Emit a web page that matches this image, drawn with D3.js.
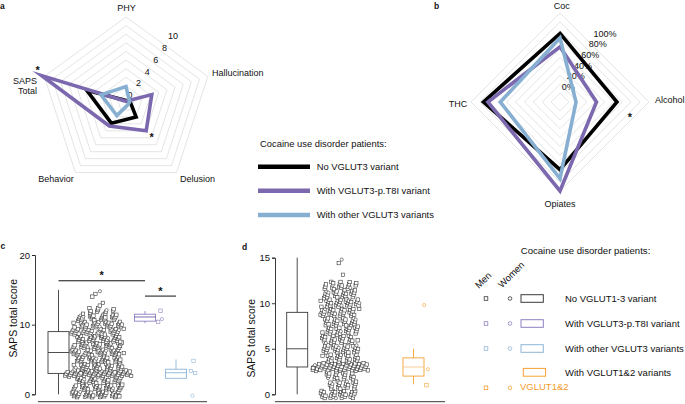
<!DOCTYPE html>
<html><head><meta charset="utf-8">
<script src="https://cdn.jsdelivr.net/npm/d3@7"></script>
<style>body{margin:0;background:#fff} text{font-family:"Liberation Sans",Arial,Helvetica,sans-serif}</style>
</head><body><svg id="fig" width="685" height="404"></svg>
<script>
// ---------------- DATA ----------------
const radarAAxes = ["PHY", "Hallucination", "Delusion", "Behavior", "SAPS Total"];
const radarANone  = [0.3, 0.5, 2.0, 2.9, 4.8];
const radarAT8I   = [0.2, 3.15, 4.0, 3.3, 10.3];
const radarAOther = [1.9, 0.45, 0.3, 1.8, 3.05];
const radarATicks = [0, 2, 4, 6, 8, 10];

const radarBAxes = ["Coc", "Alcohol", "Opiates", "THC"];
const radarBNone  = [77, 64, 76, 86];
const radarBT8I   = [62, 41, 100, 81];
const radarBOther = [72, 18, 86, 67];
const radarBTicks = [0, 20, 40, 60, 80, 100];

const seriesNames = ["No VGLUT3 variant", "With VGLUT3-p.T8I variant", "With other VGLUT3 variants"];

// SAPS total score levels and counts of patients (no variant group)
const scoreLevels = [0,1,2,3,4,5,6,7,8,9,10,11,12,13,14,15];
const menC   = [32,28,28,51,28,28,32,28,28,32,28,23,11,2,2,0];
const womenC = [3,2,2,4,2,2,3,2,2,3,2,2,1,0,0,1];
const menD   = [27,18,18,55,23,27,23,23,23,27,27,23,18,1,1,0];
const womenD = [3,2,2,5,2,3,2,2,2,3,3,2,2,0,0,1];

// small groups (individual scores)
const t8iMenC = [12.0, 10.4];
const t8iWomenC = [10.8];
const otherMenC = [4.8, 3.35, 3.05];
const otherWomenC = [-0.2];
const v12MenD = [1.0];
const v12WomenD = [9.8, 2.75];

// box statistics
const boxGroupsC = ["none", "t8i", "other"];
const boxLowC  = [0, 10.2, 2.3];
const boxQ1C   = [3, 10.5, 2.3];
const boxMedC  = [6, 11.1, 3.1];
const boxQ3C   = [9, 11.5, 3.6];
const boxHighC = [15, 11.95, 5.0];

const boxGroupsD = ["none", "v12"];
const boxLowD  = [0, 1.1];
const boxQ1D   = [3, 2];
const boxMedD  = [5, 3];
const boxQ3D   = [9, 4];
const boxHighD = [15, 5];

const sigC = [{a:"none", b:"t8i", y:16.3}, {a:"t8i", b:"other", y:14.1}];
const ticksC = [0, 10, 20];
const ticksD = [0, 5, 10, 15];

const legendD = ["No VGLUT1-3 variant", "With VGLUT3-p.T8I variant", "With other VGLUT3 variants", "With VGLUT1&2 variants"];

// ---------------- STYLE ----------------
const lineCol = {none:"#000000", t8i:"#7b68ae", other:"#86afd1"};
const markCol = {none:"#3a3a3a", t8i:"#8f7fc2", other:"#8db6d8", v12:"#f5a033"};
const medCol  = {none:"#3a3a3a", t8i:"#6d5ca3", other:"#8db6d8", v12:"#f8c68c"};
const GRID = "#d9d9d9";

const svg = d3.select("#fig");

function txt(x, y, s, opts = {}) {
  const t = svg.append("text").attr("x", x).attr("y", y).text(s)
    .attr("font-size", opts.size || 9).attr("fill", opts.fill || "#111")
    .attr("text-anchor", opts.anchor || "start");
  if (opts.bold) t.attr("font-weight", "bold");
  if (opts.rotate !== undefined) t.attr("transform", `rotate(${opts.rotate},${x},${y})`);
  return t;
}

// ---------------- RADAR ----------------
function radar(cx, cy, R, n, max, rings, seriesList, tickVals, tickFmt, tickStart, tickEnd, tickSize) {
  const g = svg.append("g").attr("transform", `translate(${cx},${cy})`);
  const r = d3.scaleLinear().domain([0, max]).range([0, R]);
  const ang = i => i * 2 * Math.PI / n;
  const ring = d3.lineRadial().angle((d, i) => ang(i)).radius(d => d).curve(d3.curveLinearClosed);
  for (let k = 1; k <= rings; k++) {
    g.append("path").attr("d", ring(d3.range(n).map(() => R * k / rings)))
      .attr("fill", "none").attr("stroke", GRID).attr("stroke-width", 0.7);
  }
  const tx = d3.scaleLinear().domain([0, max]).range([tickStart[0], tickEnd[0]]);
  const ty = d3.scaleLinear().domain([0, max]).range([tickStart[1], tickEnd[1]]);
  tickVals.forEach(v => {
    g.append("text").attr("x", tx(v)).attr("y", ty(v) + tickSize * 0.36).attr("text-anchor", "middle")
      .attr("font-size", tickSize).attr("fill", "#111").text(tickFmt(v));
  });
  const line = d3.lineRadial().angle((d, i) => ang(i)).radius(d => r(d)).curve(d3.curveLinearClosed);
  seriesList.forEach(s => {
    g.append("path").attr("d", line(s.values)).attr("fill", "none")
      .attr("stroke", s.color).attr("stroke-width", 3.6).attr("stroke-linejoin", "miter").attr("stroke-miterlimit", 10);
  });
}

radar(126, 103, 86, radarAAxes.length, 10, 10,
  [{values: radarANone, color: lineCol.none}, {values: radarAT8I, color: lineCol.t8i}, {values: radarAOther, color: lineCol.other}],
  radarATicks, d => d3.format("d")(d), [4, -8], [47, -67], 9);

radar(560, 102, 89, radarBAxes.length, 100, 10,
  [{values: radarBNone, color: lineCol.none}, {values: radarBT8I, color: lineCol.t8i}, {values: radarBOther, color: lineCol.other}],
  radarBTicks, d => d + "%", [8.3, -15.3], [45, -68.7], 9);

// radar A labels
txt(126.5, 10.5, radarAAxes[0], {anchor: "middle"});
txt(212, 76, radarAAxes[1]);
txt(197.5, 181.5, radarAAxes[2], {anchor: "middle"});
txt(56, 181.5, radarAAxes[3], {anchor: "middle"});
txt(37, 83.5, "SAPS", {anchor: "end"});
txt(37, 93.5, "Total", {anchor: "end"});
txt(37.7, 74, "*", {anchor: "middle", size: 11, bold: true});
txt(151.7, 140.7, "*", {anchor: "middle", size: 11, bold: true});

// radar B labels
txt(561.7, 8.8, radarBAxes[0], {anchor: "middle"});
txt(655, 103.3, radarBAxes[1]);
txt(560, 207.3, radarBAxes[2], {anchor: "middle"});
txt(458, 106.6, radarBAxes[3], {anchor: "middle"});
txt(630, 120.7, "*", {anchor: "middle", size: 11, bold: true});

// panel letters
txt(0, 9, "a", {bold: true, size: 8.5});
txt(434, 8.5, "b", {bold: true, size: 8.5});
txt(0.5, 248.5, "c", {bold: true, size: 8.5});
txt(242, 250, "d", {bold: true, size: 8.5});

// legend a/b
txt(260, 146.5, "Cocaine use disorder patients:", {size: 9.4});
const legY = d3.scalePoint().domain(seriesNames).range([166.7, 215]);
const legKeys = ["none", "t8i", "other"];
seriesNames.forEach((s, i) => {
  svg.append("line").attr("x1", 258).attr("x2", 310).attr("y1", legY(s)).attr("y2", legY(s))
    .attr("stroke", lineCol[legKeys[i]]).attr("stroke-width", 4.5);
  txt(316.7, legY(s) + 3.4, s, {size: 9.4});
});

// ---------------- BOX + SCATTER ----------------
const frac = v => v - Math.floor(v);
// deterministic low-discrepancy spreading of each score row (layout only)
function rowPoints(levels, men, women, cx, a, jit) {
  const pts = [];
  levels.forEach((lv, j) => {
    const n = men[j] + women[j];
    const w = a * Math.sqrt(n);
    for (let k = 0; k < n; k++) {
      const fx = frac(0.5 + j * 0.41421356 + k * 0.7548776662);
      const fy = frac(0.5 + j * 0.31830988 + k * 0.5698402910);
      const isW = Math.floor((k + 1) * women[j] / n) > Math.floor(k * women[j] / n);
      pts.push({x: cx + (fx - 0.5) * w, v: lv + (fy - 0.5) * jit, sex: isW ? "w" : "m"});
    }
  });
  return pts;
}
function smallPoints(men, women, cx, w) {
  const all = men.map(v => ({v, sex: "m"})).concat(women.map(v => ({v, sex: "w"})));
  return all.map((p, k) => ({x: cx + (frac(0.5 + k * 0.618034) - 0.5) * w, v: p.v, sex: p.sex}));
}
function drawPoints(pts, y, col) {
  pts.forEach(p => {
    if (p.sex === "m") {
      svg.append("rect").attr("x", p.x - 1.7).attr("y", y(p.v) - 1.7).attr("width", 3.4).attr("height", 3.4)
        .attr("fill", "#fff").attr("stroke", col).attr("stroke-width", 0.6);
    } else {
      svg.append("circle").attr("cx", p.x).attr("cy", y(p.v)).attr("r", 1.6)
        .attr("fill", "#fff").attr("stroke", col).attr("stroke-width", 0.6);
    }
  });
}
function drawBox(x, y, key, lo, q1, med, q3, hi, bw) {
  const c = markCol[key];
  svg.append("line").attr("x1", x).attr("x2", x).attr("y1", y(hi)).attr("y2", y(q3)).attr("stroke", c).attr("stroke-width", 0.9);
  svg.append("line").attr("x1", x).attr("x2", x).attr("y1", y(q1)).attr("y2", y(lo)).attr("stroke", c).attr("stroke-width", 0.9);
  svg.append("rect").attr("x", x - bw / 2).attr("y", y(q3)).attr("width", bw).attr("height", y(q1) - y(q3))
    .attr("fill", "none").attr("stroke", c).attr("stroke-width", 0.9);
  svg.append("line").attr("x1", x - bw / 2).attr("x2", x + bw / 2).attr("y1", y(med)).attr("y2", y(med))
    .attr("stroke", medCol[key]).attr("stroke-width", 0.9);
}
function yAxis(x, y, ticks) {
  const ax = d3.axisLeft(y).tickValues(ticks).tickSize(3).tickPadding(2).tickFormat(d3.format("d"));
  const g = svg.append("g").attr("transform", `translate(${x},0)`).call(ax);
  g.select(".domain").attr("stroke", "#222").attr("stroke-width", 0.9);
  g.selectAll(".tick line").attr("stroke", "#222").attr("stroke-width", 0.9);
  g.selectAll(".tick text").attr("font-size", 9.5).attr("fill", "#111")
    .attr("font-family", '"Liberation Sans", Arial, sans-serif');
}

// panel c
const yC = d3.scaleLinear().domain([0, 20]).range([394.3, 255]);
const xC = d3.scaleOrdinal().domain(boxGroupsC).range([58.5, 145, 176]);
yAxis(35, yC, ticksC);
svg.append("line").attr("x1", 38).attr("x2", 207).attr("y1", 401.7).attr("y2", 401.7).attr("stroke", "#222").attr("stroke-width", 0.9);
txt(13.5, 318.3, "SAPS total score", {anchor: "middle", size: 10.4, rotate: -90}).attr("dy", "0.35em");
boxGroupsC.forEach((g, i) => drawBox(xC(g), yC, g, boxLowC[i], boxQ1C[i], boxMedC[i], boxQ3C[i], boxHighC[i], 21));
drawPoints(rowPoints(scoreLevels, menC, womenC, xC("none") + 39.5, 9, 0.9), yC, markCol.none);
drawPoints(smallPoints(t8iMenC, t8iWomenC, xC("t8i") + 15.5, 6), yC, markCol.t8i);
drawPoints(smallPoints(otherMenC, otherWomenC, xC("other") + 17.5, 7), yC, markCol.other);
sigC.forEach(s => {
  const x1 = xC(s.a), x2 = xC(s.b);
  svg.append("line").attr("x1", x1).attr("x2", x2).attr("y1", yC(s.y)).attr("y2", yC(s.y)).attr("stroke", "#111").attr("stroke-width", 1);
  txt((x1 + x2) / 2, yC(s.y) - 1.5, "*", {anchor: "middle", size: 11, bold: true});
});

// panel d
const yD = d3.scaleLinear().domain([0, 15]).range([394.3, 257.7]);
const xD = d3.scaleOrdinal().domain(boxGroupsD).range([297.2, 413.5]);
yAxis(275, yD, ticksD);
svg.append("line").attr("x1", 275).attr("x2", 445).attr("y1", 401.7).attr("y2", 401.7).attr("stroke", "#222").attr("stroke-width", 0.9);
txt(251.7, 338.3, "SAPS total score", {anchor: "middle", size: 10.4, rotate: -90}).attr("dy", "0.35em");
boxGroupsD.forEach((g, i) => drawBox(xD(g), yD, g, boxLowD[i], boxQ1D[i], boxMedD[i], boxQ3D[i], boxHighD[i], 21));
drawPoints(rowPoints(scoreLevels, menD, womenD, xD("none") + 43, 7.2, 0.9), yD, markCol.none);
drawPoints(smallPoints(v12MenD, v12WomenD, xD("v12") + 13, 6), yD, markCol.v12);

// legend d
txt(585.5, 254, "Cocaine use disorder patients:", {anchor: "middle", size: 9.6});
txt(479, 289, "Men", {size: 9.5, rotate: -45});
txt(502, 288.5, "Women", {size: 9.5, rotate: -45});
const legRowY = d3.scaleLinear().domain([0, 2]).range([298.5, 348.5]);
const legKeysD = ["none", "t8i", "other"];
legKeysD.forEach((k, i) => {
  const y = legRowY(i);
  svg.append("rect").attr("x", 484.2).attr("y", y - 1.8).attr("width", 3.6).attr("height", 3.6).attr("fill", "#fff").attr("stroke", markCol[k]).attr("stroke-width", 0.8);
  svg.append("circle").attr("cx", 510).attr("cy", y).attr("r", 1.8).attr("fill", "#fff").attr("stroke", markCol[k]).attr("stroke-width", 0.8);
  svg.append("rect").attr("x", 521).attr("y", y - 3.8).attr("width", 22.3).attr("height", 7.6).attr("fill", "none").attr("stroke", markCol[k]).attr("stroke-width", 1);
  txt(565, y + 3.4, legendD[i], {size: 9.5});
});
svg.append("rect").attr("x", 523.3).attr("y", 368.4).attr("width", 22.3).attr("height", 7.8).attr("fill", "none").attr("stroke", markCol.v12).attr("stroke-width", 1);
txt(565, 376.4, legendD[3], {size: 9.5});
svg.append("rect").attr("x", 484.2).attr("y", 386).attr("width", 3.6).attr("height", 3.6).attr("fill", "#fff").attr("stroke", markCol.v12).attr("stroke-width", 0.8);
svg.append("circle").attr("cx", 510).attr("cy", 387.8).attr("r", 1.8).attr("fill", "#fff").attr("stroke", markCol.v12).attr("stroke-width", 0.8);
txt(520, 390.3, "VGLUT1&2", {size: 9.5, fill: "#f39c2b"});
</script></body></html>
